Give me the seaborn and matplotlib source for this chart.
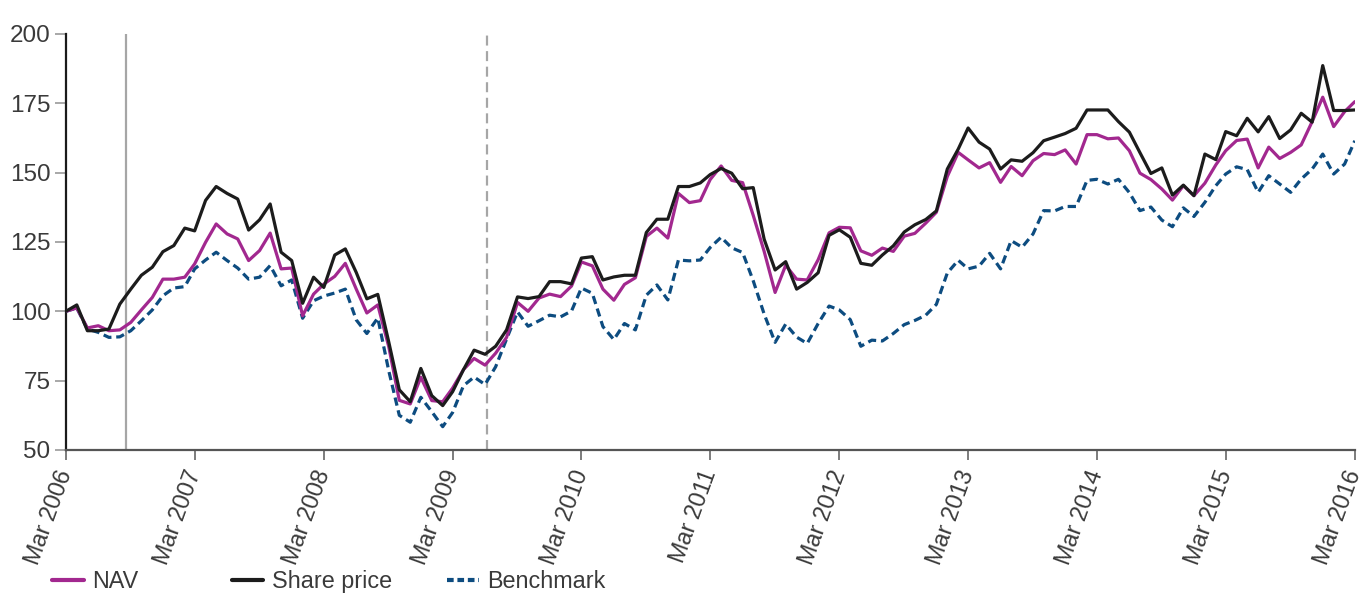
import numpy as np
import pandas as pd
import matplotlib
matplotlib.use("Agg")
import matplotlib.pyplot as plt
import seaborn as sns
from matplotlib.lines import Line2D

# Dados mensais, Mar 2006 a Mar 2016 (rebased a 100)
meses = pd.date_range("2006-03-01", periods=121, freq="MS")

share_price = [
    100, 102.3, 93, 93, 93.6, 102.6, 108, 113, 115.9, 121.5,
    123.7, 130, 129, 140, 145, 142.5, 140.5, 129.3, 133, 138.7, 121.3, 118.3,
    102.9, 112.3, 108.6, 120.3, 122.5, 114, 104.5, 106.1, 89, 71.7, 67.4, 79.4,
    69.6, 66, 71, 79, 86, 84.5, 87.4, 93.3, 105.2, 104.6, 105.3, 110.7,
    110.7, 109.9, 119.2, 119.7, 111.3, 112.4, 113, 113, 128.4, 133.2, 133.2, 145,
    145, 146.3, 149.3, 151.5, 149.8, 144.2, 144.6, 126, 114.9, 117.9, 108, 110.4,
    113.9, 127.4, 129.4, 126.7, 117.3, 116.6, 120.3, 123.6, 128.6, 131.2, 133.1, 136.2,
    151.3, 158.5, 166.1, 161, 158.5, 151.3, 154.6, 154.1, 157.2, 161.5, 162.8, 164.1,
    166, 172.6, 172.6, 172.6, 168.4, 164.6, 157.2, 149.7, 151.7, 141.9, 145.5, 141.7,
    156.7, 154.7, 164.8, 163.3, 169.6, 164.7, 170.2, 162.3, 165.4, 171.4, 168.2, 188.6,
    172.4, 172.4, 172.6,
]

nav = [
    100, 101.2, 94, 94.8, 93, 93.3, 96, 100.5, 105, 111.6,
    111.6, 112.3, 117.1, 124.9, 131.5, 127.9, 126.1, 118.3, 121.9, 128.2, 115.3, 115.6,
    98.4, 106.2, 109.8, 112.6, 117.3, 108, 99.4, 102.3, 87.3, 67.9, 66.6, 76.2,
    67.8, 67.4, 72.3, 79, 83, 80.6, 84.9, 90.6, 103.2, 100, 104.8, 106.2,
    105.3, 109.1, 117.8, 116.4, 108, 104, 109.7, 112.1, 127, 130, 126.4, 142.5,
    139.2, 139.9, 147.5, 152.4, 147.2, 146.4, 134.6, 121.6, 106.8, 116.6, 111.6, 111.3,
    118.6, 128.3, 130.3, 130.1, 121.8, 120.2, 122.8, 121.6, 127.1, 128.1, 131.8, 135.7,
    148.6, 157.3, 154.6, 151.7, 153.6, 146.5, 152.2, 148.9, 154.3, 156.9, 156.5, 158.2,
    153.1, 163.7, 163.7, 162.2, 162.5, 157.9, 149.8, 147.5, 144.1, 140.1, 145.3, 141.7,
    146.2, 152.8, 157.9, 161.6, 162.1, 151.7, 159.2, 155.1, 157.3, 160, 168.4, 177.2,
    166.6, 172, 175.6,
]

benchmark = [
    100, 101.2, 93.6, 92.4, 90.6, 90.8, 93, 96.6, 100.5, 105.6,
    108.4, 108.9, 115.3, 118.5, 121.3, 118.3, 115.6, 111.6, 112.3, 116.5, 109.2, 111.3,
    97.5, 103.8, 105.5, 106.6, 108, 96.9, 92, 97.6, 78.6, 62.5, 60, 69,
    63.8, 58.4, 63.5, 73.2, 76.3, 73.6, 80, 90, 99.8, 94.6, 96.6, 98.6,
    98, 100.1, 108.4, 106.5, 94.5, 89.8, 95.6, 93.3, 105.8, 109.5, 104.1, 118.5,
    118.2, 118.5, 123, 126.7, 122.9, 121.2, 111, 99, 88.8, 95.4, 90.7, 88.4,
    95.6, 101.9, 100.5, 97, 87.4, 89.6, 89.3, 92, 95.2, 96.7, 98.6, 102.5,
    113.8, 118.4, 115.3, 116.3, 120.9, 115.3, 125.5, 123.1, 127.9, 136.3, 136.2, 137.8,
    137.8, 147.2, 147.6, 145.9, 147.6, 142.8, 136.3, 137.6, 132.9, 130.5, 137.3, 134.2,
    139.3, 145.3, 149.5, 152.1, 151.1, 142.9, 148.9, 145.9, 142.9, 147.7, 151.3, 156.7,
    149.5, 153.1, 161.5,
]

# Marcadores verticais (datas aproximadas)
linha_solida = pd.Timestamp("2006-08-19")
linha_tracejada = pd.Timestamp("2009-06-07")

df = pd.DataFrame({"Data": meses, "NAV": nav, "Share price": share_price, "Benchmark": benchmark})

sns.set_theme(style="white")
plt.rcParams["font.family"] = ["Liberation Sans", "DejaVu Sans"]

cor_nav = "#A2288F"
cor_share = "#1c1c1c"
cor_bench = "#0D4C80"
cor_texto = "#3a3a3a"

fig = plt.figure(figsize=(13.72, 5.96), dpi=100)
ax = fig.add_axes([0.048, 0.245, 0.9395, 0.698])

ax.axvline(linha_solida, color="#a6a6a6", linewidth=1.6, zorder=1)
ax.axvline(linha_tracejada, color="#a6a6a6", linewidth=1.6, linestyle=(0, (4.5, 2.5)), zorder=1)

sns.lineplot(data=df, x="Data", y="Benchmark", ax=ax, color=cor_bench, linewidth=2.3,
             linestyle=(0, (2.6, 1.5)), zorder=3)
sns.lineplot(data=df, x="Data", y="NAV", ax=ax, color=cor_nav, linewidth=2.3, zorder=4)
sns.lineplot(data=df, x="Data", y="Share price", ax=ax, color=cor_share, linewidth=2.3, zorder=5)

ax.set_xlim(meses[0], meses[-1])
ax.set_ylim(50, 200)
ax.set_yticks(np.arange(50, 201, 25))
ax.set_yticklabels([str(v) for v in range(50, 201, 25)], fontsize=17.5, color=cor_texto)

ticks_x = meses[::12]
ax.set_xticks(ticks_x)
ax.set_xticklabels([d.strftime("Mar %Y") for d in ticks_x], rotation=70, ha="right",
                   va="center", rotation_mode="anchor", fontsize=16.8, color=cor_texto)

ax.set_xlabel("")
ax.set_ylabel("")
ax.grid(False)

for lado in ["top", "right"]:
    ax.spines[lado].set_visible(False)
ax.spines["left"].set_color("#1a1a1a")
ax.spines["left"].set_linewidth(1.6)
ax.spines["bottom"].set_color("#555555")
ax.spines["bottom"].set_linewidth(1.6)

ax.tick_params(axis="y", which="major", left=True, length=8, width=1.2, color="#9a9a9a", pad=3)
ax.tick_params(axis="x", which="major", bottom=True, length=7, width=1.2, color="#666666", pad=8)

# Legenda em três partes, como no original
if ax.get_legend() is not None:
    ax.get_legend().remove()
entradas = [
    (Line2D([], [], color=cor_nav, linewidth=3), "NAV", 0.038),
    (Line2D([], [], color=cor_share, linewidth=3), "Share price", 0.169),
    (Line2D([], [], color=cor_bench, linewidth=3, linestyle=(0, (1.6, 0.9))), "Benchmark", 0.326),
]
for handle, rotulo, xpos in entradas:
    fig.legend([handle], [rotulo], loc="center left", bbox_to_anchor=(xpos, 0.024),
               frameon=False, fontsize=16.8, handlelength=1.35, handletextpad=0.35,
               borderaxespad=0, borderpad=0, labelcolor=cor_texto)

fig.savefig("out.png", dpi=100)
